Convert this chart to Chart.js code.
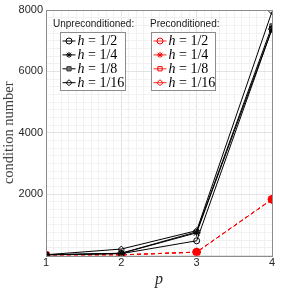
<!DOCTYPE html>
<html>
<head>
<meta charset="utf-8">
<script src="https://cdn.jsdelivr.net/npm/chart.js@4"></script>
<style>
  html, body { margin: 0; padding: 0; background: #fff; }
  #wrap { width: 283px; height: 289px; }
</style>
</head>
<body>
<div id="wrap"><canvas id="cond" width="283" height="289"></canvas></div>
<script>
const degrees = [1, 2, 3, 4];
const meshLabels = ['1/2', '1/4', '1/8', '1/16'];
const unprecH2 = [20, 60, 480, 7380];
const unprecH4 = [20, 70, 740, 7380];
const unprecH8 = [20, 75, 770, 7480];
const unprecH16 = [25, 210, 810, 7950];
const precH2 = [15, 20, 110, 1830];
const precH4 = [15, 20, 110, 1830];
const precH8 = [15, 20, 110, 1830];
const precH16 = [15, 20, 110, 1830];
const yTickLabels = [2000, 4000, 6000, 8000];
const xTickLabels = [1, 2, 3, 4];

const markers = ['circle', 'star', 'rect', 'rectRot'];
const pts = vals => vals.map((v, i) => ({ x: degrees[i], y: v }));

function blackSet(vals, i) {
  return {
    label: 'Unpreconditioned h = ' + meshLabels[i],
    data: pts(vals),
    borderColor: '#000',
    borderWidth: 1,
    pointStyle: markers[i],
    pointRadius: i === 1 ? 4 : 3,
    pointBorderColor: i === 2 ? '#333' : '#000',
    pointBackgroundColor: i === 2 ? '#777' : 'rgba(0,0,0,0)',
    pointBorderWidth: 1
  };
}
function redSet(vals, i) {
  return {
    label: 'Preconditioned h = ' + meshLabels[i],
    data: pts(vals),
    borderColor: 'rgba(255,0,0,0.85)',
    borderWidth: 1,
    borderDash: [4, 3],
    pointStyle: markers[i],
    pointRadius: i === 1 ? 4 : 3.5,
    pointBorderColor: '#ff0000',
    pointBackgroundColor: 'rgba(255,0,0,0)',
    pointBorderWidth: 1.5
  };
}

const isInt = v => Math.abs(v - Math.round(v)) < 1e-6;

const boxPlugin = {
  id: 'box',
  afterDatasetsDraw(chart) {
    const a = chart.chartArea, c = chart.ctx;
    c.save();
    c.strokeStyle = '#8c8c8c';
    c.lineWidth = 1;
    c.strokeRect(Math.round(a.left) + 0.5, Math.round(a.top) + 0.5,
      Math.round(a.right - a.left), Math.round(a.bottom - a.top));
    c.restore();
  }
};

const legendPlugin = {
  id: 'twoLegends',
  afterDraw(chart) {
    const c = chart.ctx;
    const groups = [
      { title: 'Unpreconditioned:', tx: 53, box: [60.5, 32.5, 65, 58], start: 0 },
      { title: 'Preconditioned:', tx: 150, box: [151.5, 32.5, 64, 58], start: 4 }
    ];
    c.save();
    groups.forEach(g => {
      c.font = '10px "Liberation Sans", Arial, sans-serif';
      c.fillStyle = '#1a1a1a';
      c.textBaseline = 'middle';
      c.textAlign = 'left';
      c.fillText(g.title, g.tx, 24);
      const [bx, by, bw, bh] = g.box;
      c.fillStyle = '#fff';
      c.fillRect(bx, by, bw, bh);
      c.strokeStyle = '#8c8c8c';
      c.lineWidth = 1;
      c.strokeRect(bx, by, bw, bh);
      meshLabels.forEach((m, i) => {
        const ds = chart.data.datasets[g.start + i];
        const y = 41 + i * 13.9;
        const x0 = bx + 2;
        c.strokeStyle = ds.borderColor;
        c.lineWidth = 1;
        c.beginPath();
        c.moveTo(x0, y);
        c.lineTo(x0 + 13, y);
        c.stroke();
        c.fillStyle = ds.pointBackgroundColor;
        c.strokeStyle = ds.pointBorderColor;
        c.lineWidth = 1;
        Chart.helpers.drawPoint(c, { pointStyle: ds.pointStyle, radius: 3, rotation: 0, borderWidth: 1 }, x0 + 6.5, y);
        c.fillStyle = '#000';
        c.font = 'italic 14px "Liberation Serif", serif';
        c.fillText('h', x0 + 15, y + 0.5);
        const hw = c.measureText('h').width;
        c.font = '14px "Liberation Serif", serif';
        c.fillText(' = ' + m, x0 + 15 + hw, y + 0.5);
      });
    });
    c.restore();
  }
};

new Chart(document.getElementById('cond'), {
  type: 'line',
  data: {
    datasets: [
      blackSet(unprecH2, 0), blackSet(unprecH4, 1), blackSet(unprecH8, 2), blackSet(unprecH16, 3),
      redSet(precH2, 0), redSet(precH4, 1), redSet(precH8, 2), redSet(precH16, 3)
    ]
  },
  options: {
    responsive: false,
    animation: false,
    layout: { padding: { top: 10, right: 11, left: 0, bottom: 0 } },
    plugins: { legend: { display: false }, tooltip: { enabled: false } },
    scales: {
      x: {
        type: 'linear',
        min: 1,
        max: 4,
        afterFit: s => { s.height = 33.5; },
        ticks: {
          stepSize: 0.1,
          autoSkip: false,
          maxRotation: 0,
          padding: 1,
          color: '#262626',
          font: { family: '"Liberation Sans", Arial, sans-serif', size: 11 },
          callback: v => (isInt(v) && xTickLabels.includes(Math.round(v)) ? String(Math.round(v)) : '')
        },
        grid: {
          drawTicks: false,
          color: ctx => (ctx.tick && isInt(ctx.tick.value) ? '#e3e3e3' : '#f1f1f1')
        },
        border: { display: false },
        title: {
          display: true,
          text: 'p',
          color: '#262626',
          padding: { top: 0, bottom: 0 },
          font: { family: '"Liberation Serif", serif', size: 16, style: 'italic' }
        }
      },
      y: {
        min: 0,
        max: 8000,
        afterFit: s => { s.width = 46; },
        ticks: {
          stepSize: 250,
          autoSkip: false,
          padding: 3,
          color: '#262626',
          font: { family: '"Liberation Sans", Arial, sans-serif', size: 11 },
          callback: v => (yTickLabels.includes(v) ? String(v) : '')
        },
        grid: {
          drawTicks: false,
          color: ctx => (ctx.tick && ctx.tick.value % 2000 === 0 ? '#e3e3e3' : '#f1f1f1')
        },
        border: { display: false },
        title: {
          display: true,
          text: 'condition number',
          color: '#404040',
          padding: { top: 0, bottom: 3 },
          font: { family: '"Liberation Serif", serif', size: 14.5 }
        }
      }
    }
  },
  plugins: [boxPlugin, legendPlugin]
});
</script>
</body>
</html>
